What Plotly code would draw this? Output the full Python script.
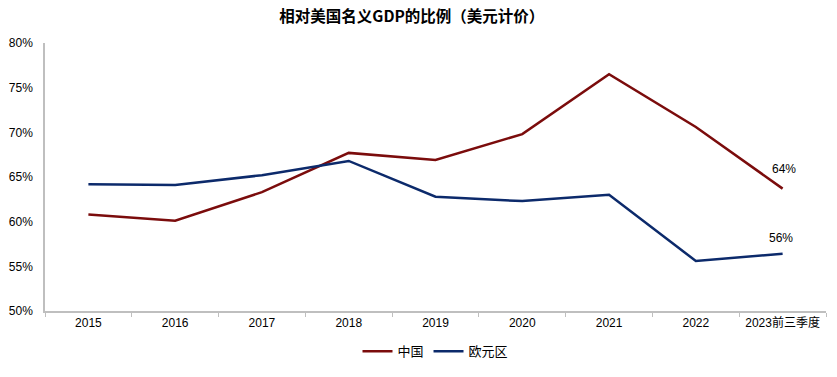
import plotly.graph_objects as go

categories = ["2015", "2016", "2017", "2018", "2019", "2020", "2021", "2022", "2023前三季度"]
china = [60.8, 60.1, 63.3, 67.7, 66.9, 69.8, 76.5, 70.6, 63.7]
euro = [64.2, 64.1, 65.2, 66.8, 62.8, 62.3, 63.0, 55.6, 56.4]
china_label = "64%"
euro_label = "56%"
y_ticks = [50, 55, 60, 65, 70, 75, 80]
y_tick_labels = ["50%", "55%", "60%", "65%", "70%", "75%", "80%"]

font = "Liberation Sans, Arial, Noto Sans CJK SC, sans-serif"

fig = go.Figure()
fig.add_trace(go.Scatter(
    x=categories, y=china, name="中国", mode="lines",
    line=dict(color="#7B0C0C", width=2.5),
))
fig.add_trace(go.Scatter(
    x=categories, y=euro, name="欧元区", mode="lines",
    line=dict(color="#0C2A6B", width=2.5),
))
fig.add_annotation(x=categories[-1], y=china[-1], text=china_label, showarrow=False,
                   yshift=20, xshift=1, font=dict(size=12, color="#000"))
fig.add_annotation(x=categories[-1], y=euro[-1], text=euro_label, showarrow=False,
                   yshift=16, xshift=-2, font=dict(size=12, color="#000"))

fig.update_layout(
    width=837, height=377,
    margin=dict(l=45, r=11, t=43, b=60),
    paper_bgcolor="white", plot_bgcolor="white",
    font=dict(family=font, size=12, color="#000"),
    title=dict(text="<b>相对美国名义GDP的比例（美元计价）</b>", x=0.492, xanchor="center",
               y=0.955, yanchor="middle",
               font=dict(size=15.5, family="Noto Sans CJK SC, sans-serif")),
    showlegend=True,
    legend=dict(orientation="h", x=0.5, xanchor="center", y=-0.15, yanchor="middle",
                font=dict(size=13, family="Noto Sans CJK SC, sans-serif"),
                itemwidth=30, tracegroupgap=0),
    xaxis=dict(type="category", range=[-0.5, len(categories) - 0.5],
               showline=True, linecolor="#BFBFBF", linewidth=1.5,
               ticks="outside", tickson="boundaries", ticklen=4, tickcolor="#BFBFBF",
               showgrid=False, tickfont=dict(size=12), automargin=False),
    yaxis=dict(range=[50, 80], tickvals=y_ticks, ticktext=y_tick_labels,
               showline=True, linecolor="#BFBFBF", linewidth=1.5,
               showgrid=False, zeroline=False, ticks="", ticklabelstandoff=8,
               tickfont=dict(size=12), automargin=False),
)

fig.write_html("out.html", config={"displayModeBar": False},
               post_script="document.body.style.margin='0';document.body.style.overflow='hidden';")
